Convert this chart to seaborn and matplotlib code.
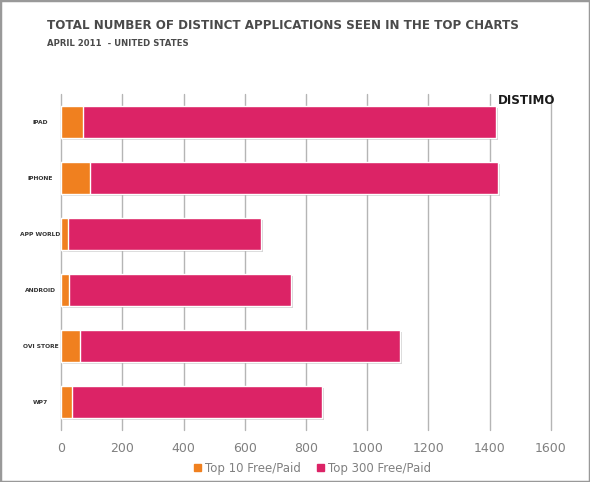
import matplotlib
matplotlib.use("Agg")
import matplotlib.pyplot as plt
import matplotlib.patheffects as pe
from matplotlib.patches import Rectangle
import seaborn as sns

stores = ["IPAD", "IPHONE", "APP WORLD", "ANDROID", "OVI STORE", "WP7"]
top10 = [70, 94, 23, 26, 61, 34]
top300 = [1421, 1429, 652, 752, 1107, 853]
ticks = [0, 200, 400, 600, 800, 1000, 1200, 1400, 1600]

orange = "#F0801F"
pink = "#DC2366"

sns.set_theme(style="white")
fig = plt.figure(figsize=(5.9, 4.82), dpi=100)
ax = fig.add_axes([0.1039, 0.1079, 0.8295, 0.697])

shadow = [pe.SimplePatchShadow(offset=(1.5, -1.5), shadow_rgbFace="#888888", alpha=0.35), pe.Normal()]

sns.barplot(x=top300, y=stores, orient="h", color=pink, width=0.57, saturation=1, ax=ax)
for p in ax.patches:
    p.set_path_effects(shadow)
sns.barplot(x=top10, y=stores, orient="h", color=orange, width=0.57, saturation=1, ax=ax)

ax.set_xlim(0, 1600)
ax.set_xticks(ticks)
ax.set_xlabel("")
ax.set_ylabel("")
for s in ax.spines.values():
    s.set_visible(False)
ax.grid(axis="x", color="#b5b5b5", linewidth=1, clip_on=False)
ax.set_axisbelow(True)
ax.tick_params(axis="x", length=0, pad=9, labelsize=9, labelcolor="#808080")
ax.tick_params(axis="y", length=0, pad=15, labelsize=4.3)
for lab in ax.get_yticklabels():
    lab.set_horizontalalignment("center")
    lab.set_fontweight("bold")
    lab.set_color("#333333")

cond = dict(family="DejaVu Sans", fontweight="bold")
title = fig.text(0.079, 0.940, "TOTAL NUMBER OF DISTINCT APPLICATIONS SEEN IN THE TOP CHARTS",
                 fontsize=11, color="#4a4a4a", va="baseline", **cond)
sub = fig.text(0.079, 0.905, "APRIL 2011  - UNITED STATES",
               fontsize=7.5, color="#4a4a4a", va="baseline", **cond)
logo = fig.text(0.9407, 0.784, "DISTIMO", fontsize=11,
                color="#1a1a1a", ha="right", va="baseline", **cond)

# fit text widths to the reference (a bit wider since the font is not condensed)
fig.canvas.draw()
r = fig.canvas.get_renderer()
for t, w in [(title, 470), (sub, 140), (logo, 57)]:
    cur = t.get_window_extent(r).width
    t.set_fontsize(t.get_fontsize() * w / cur)

handles = [Rectangle((0, 0), 1, 1, color=orange), Rectangle((0, 0), 1, 1, color=pink)]
fig.legend(handles, ["Top 10 Free/Paid", "Top 300 Free/Paid"], loc="center",
           bbox_to_anchor=(0.53, 0.029), ncol=2, frameon=False, fontsize=8.5,
           handlelength=0.6, handleheight=0.6, handletextpad=0.3, columnspacing=1.4,
           labelcolor="#808080")

fig.add_artist(Rectangle((0, 0), 1, 1, transform=fig.transFigure, fill=False,
                         edgecolor="#999999", linewidth=2.5))

fig.savefig("out.png", dpi=100)
